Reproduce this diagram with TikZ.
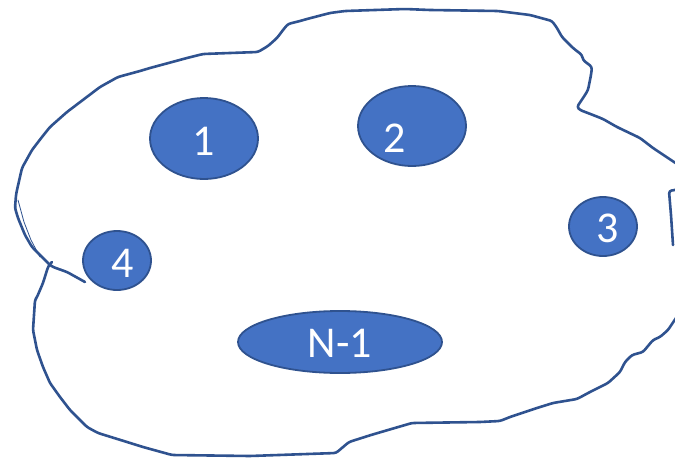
\documentclass[tikz,border=0pt]{standalone}
\usepackage{fontspec}
\setmainfont{Carlito}
\usetikzlibrary{shapes.geometric}

\definecolor{blobfill}{HTML}{4472C4}
\definecolor{blobline}{HTML}{2F528F}

\tikzset{
  blob/.style={ellipse, fill=blobfill, draw=blobline, line width=1.8pt,
               inner sep=0pt, minimum width=2*#1},
  lbl/.style={text=white, inner sep=0pt, font=\fontsize{44}{44}\selectfont},
  cloud/.style={draw=blobline, line width=2.6pt, line join=round, line cap=round,
                rounded corners=2.5pt},
  faint/.style={draw=blobline, line width=0.8pt, line cap=round}
}

\begin{document}
\begin{tikzpicture}[x=1pt,y=-1pt]
  \useasboundingbox (0,0) rectangle (675,458);
  \clip (0,0) rectangle (675,458);
  \fill[white] (0,0) rectangle (675,458);

  % hand-drawn outline: upper stroke, from the tail near 4 round to the right edge
  \draw[cloud] (85,282) -- (67,272) -- (53,267) -- (50,265) -- (43,258) -- (32,247)
    -- (25,235) -- (18,218) -- (15,208) -- (16,195) -- (17,190) -- (22,168)
    -- (32,150) -- (42,137) -- (50,127) -- (67,112) -- (100,87) -- (118,77)
    -- (140,71) -- (150,68) -- (187,58) -- (203,54) -- (230,53) -- (258,52)
    -- (268,46) -- (277,38) -- (283,30) -- (288,24) -- (300,21) -- (307,19)
    -- (330,13) -- (345,11) -- (405,9) -- (430,10) -- (498,11) -- (530,15)
    -- (552,21) -- (557,28) -- (562,37) -- (573,48) -- (582,55) -- (583,60)
    -- (592,67) -- (591,75) -- (590,80) -- (588,90) -- (585,95) -- (577,107)
    -- (580,110) -- (593,115) -- (603,119) -- (617,127) -- (640,138)
    -- (653,148) -- (680,166);
  % second faint pass on the left side
  \draw[faint] (18,200) -- (24,222) -- (31,240) -- (40,257);

  % short stroke at the right edge
  \draw[cloud] (680,189) -- (669,191) -- (671,215) -- (673,245);

  % lower stroke, from the right edge round the bottom back to the left
  \draw[cloud] (680,312) -- (668,330) -- (660,337) -- (653,340) -- (643,352)
    -- (632,355) -- (625,362) -- (620,372) -- (608,383) -- (590,392)
    -- (577,399) -- (553,403) -- (537,408) -- (510,417) -- (500,421)
    -- (480,422) -- (412,423) -- (388,430) -- (371,435) -- (349,442)
    -- (336,453) -- (250,456) -- (172,455) -- (143,447) -- (127,442)
    -- (98,433) -- (87,427) -- (70,410) -- (60,397) -- (50,383) -- (43,367)
    -- (37,350) -- (33,330) -- (35,300) -- (37,297) -- (43,283) -- (48,267)
    -- (50,264) -- (52,262);

  % the numbered ellipses
  \node[blob=54pt, minimum height=81pt] (e1) at (204,138.5) {};
  \node[blob=54pt, minimum height=80pt] (e2) at (412,126) {};
  \node[blob=34pt, minimum height=59pt] (e3) at (603,226.5) {};
  \node[blob=34pt, minimum height=59pt] (e4) at (117,260.5) {};
  \node[blob=102pt, minimum height=62pt] (eN) at (340,342) {};

  \node[lbl] (t1) at (204,141) {1};
  \node[lbl] (t2) at (395,138) {2};
  \node[lbl] (t3) at (608,228) {3};
  \node[lbl] (t4) at (123,263) {4};
  \node[lbl] (tN) at (340,343) {N-1};
\end{tikzpicture}
\end{document}
